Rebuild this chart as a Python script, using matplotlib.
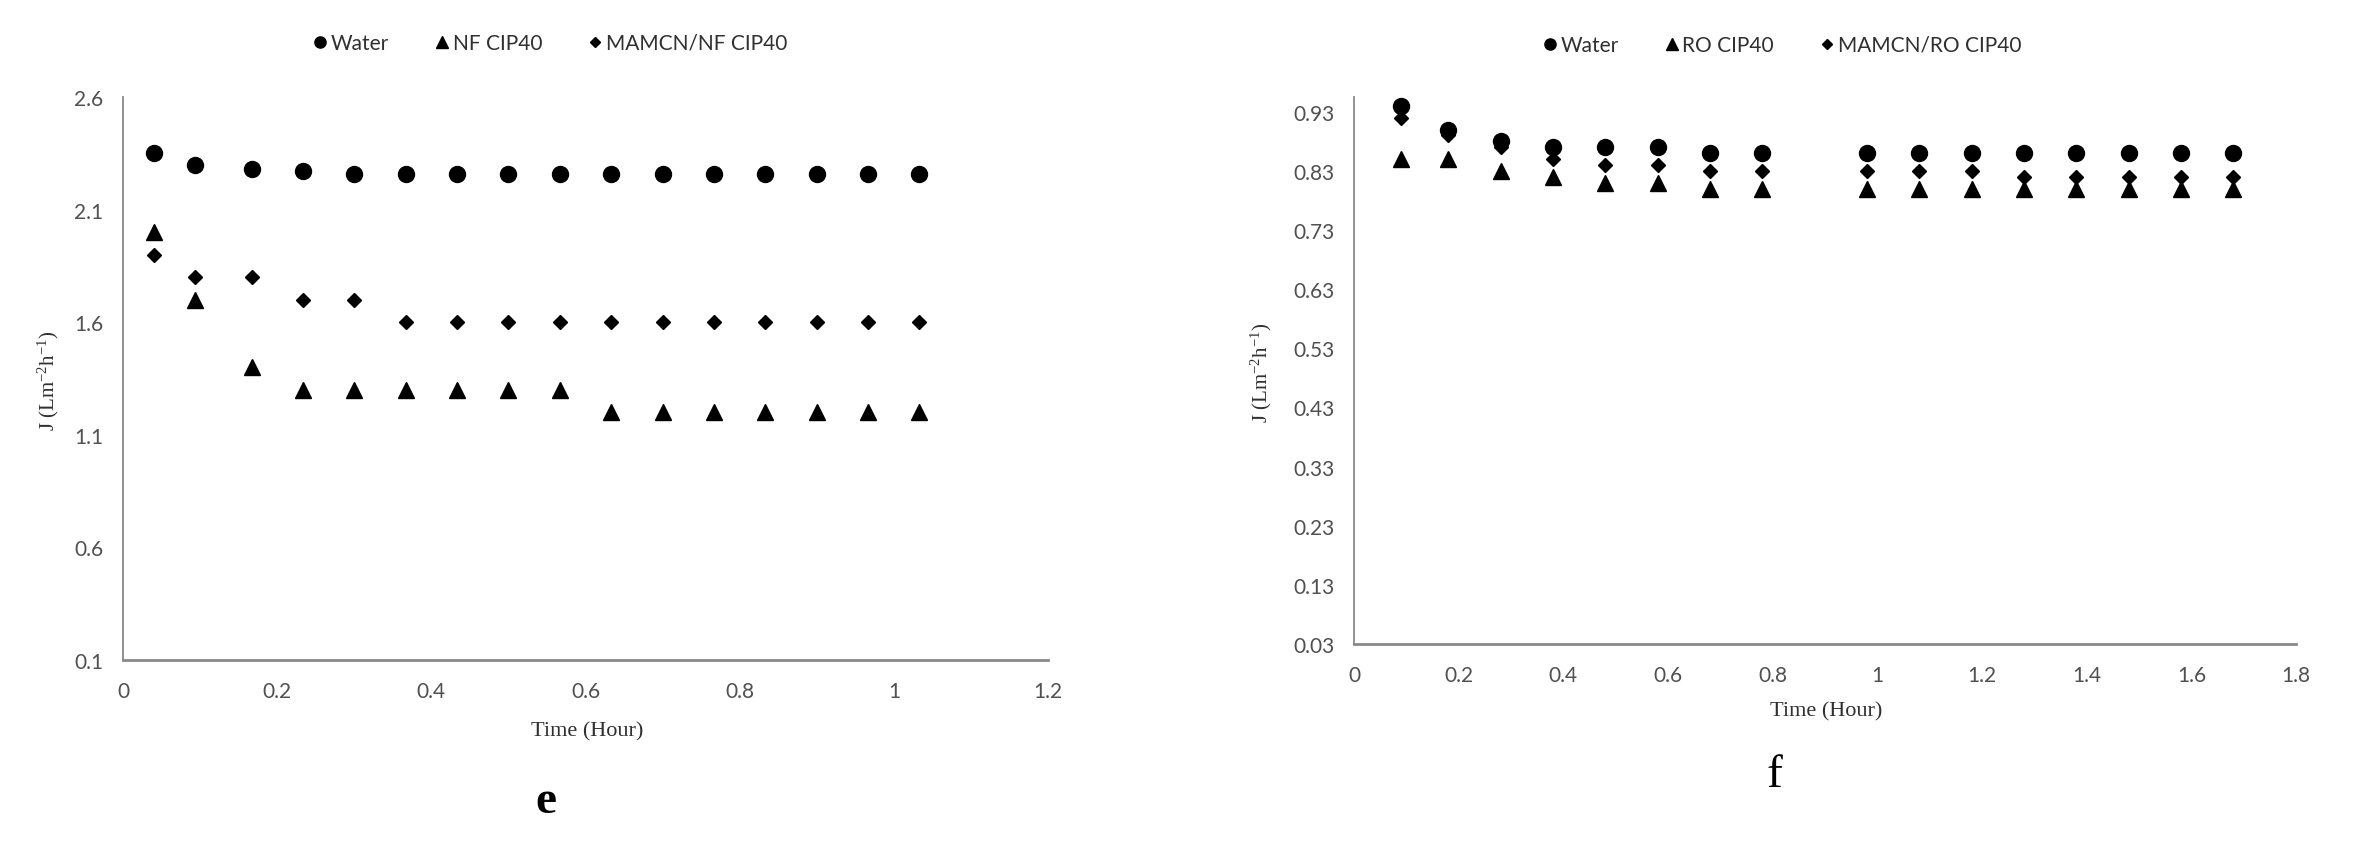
import matplotlib

matplotlib.use("Agg")
import matplotlib.pyplot as plt

# panel e: NF membrane
time_e = [0.04, 0.094, 0.167, 0.233, 0.3, 0.367, 0.433, 0.5,
          0.567, 0.633, 0.7, 0.767, 0.833, 0.9, 0.967, 1.033]
water_e = [2.35, 2.30, 2.28, 2.27, 2.26, 2.26, 2.26, 2.26,
           2.26, 2.26, 2.26, 2.26, 2.26, 2.26, 2.26, 2.26]
nf_cip = [2.0, 1.7, 1.4, 1.3, 1.3, 1.3, 1.3, 1.3,
          1.3, 1.2, 1.2, 1.2, 1.2, 1.2, 1.2, 1.2]
mamcn_nf = [1.9, 1.8, 1.8, 1.7, 1.7, 1.6, 1.6, 1.6,
            1.6, 1.6, 1.6, 1.6, 1.6, 1.6, 1.6, 1.6]

# panel f: RO membrane
time_f = [0.09, 0.18, 0.28, 0.38, 0.48, 0.58, 0.68, 0.78,
          0.98, 1.08, 1.18, 1.28, 1.38, 1.48, 1.58, 1.68]
water_f = [0.94, 0.90, 0.88, 0.87, 0.87, 0.87, 0.86, 0.86,
           0.86, 0.86, 0.86, 0.86, 0.86, 0.86, 0.86, 0.86]
ro_cip = [0.85, 0.85, 0.83, 0.82, 0.81, 0.81, 0.80, 0.80,
          0.80, 0.80, 0.80, 0.80, 0.80, 0.80, 0.80, 0.80]
mamcn_ro = [0.92, 0.89, 0.87, 0.85, 0.84, 0.84, 0.83, 0.83,
            0.83, 0.83, 0.83, 0.82, 0.82, 0.82, 0.82, 0.82]

yticks_e = [0.1, 0.6, 1.1, 1.6, 2.1, 2.6]
yticks_f = [0.03, 0.13, 0.23, 0.33, 0.43, 0.53, 0.63, 0.73, 0.83, 0.93]
xticks_e = [0, 0.2, 0.4, 0.6, 0.8, 1, 1.2]
xticks_f = [0, 0.2, 0.4, 0.6, 0.8, 1, 1.2, 1.4, 1.6, 1.8]

TICK_FONT = "Lato"
SERIF = "Liberation Serif"
SPINE = "#898989"
TICK_COLOR = "#505050"
YLABEL = r"J (Lm$^{\mathregular{-2}}$h$^{\mathregular{-1}}$)"

plt.rcParams["mathtext.default"] = "regular"

W, H = 2354, 845
fig = plt.figure(figsize=(W / 100, H / 100), dpi=100)


def px_axes(x0, x1, y0, y1):
    return fig.add_axes([x0 / W, 1 - y1 / H, (x1 - x0) / W, (y1 - y0) / H])


def style(ax, xticks, yticks, xlim, ylim, ylabels):
    ax.set_xlim(*xlim)
    ax.set_ylim(*ylim)
    ax.set_xticks(xticks, [f"{v:g}" for v in xticks])
    ax.set_yticks(yticks, ylabels)
    for side in ("top", "right"):
        ax.spines[side].set_visible(False)
    ax.spines["left"].set_color(SPINE)
    ax.spines["left"].set_linewidth(1.3)
    ax.spines["bottom"].set_color(SPINE)
    ax.spines["bottom"].set_linewidth(2.0)
    ax.tick_params(length=0, labelsize=15, colors=TICK_COLOR)
    ax.tick_params(axis="x", pad=15)
    ax.tick_params(axis="y", pad=14)
    for lab in ax.get_xticklabels() + ax.get_yticklabels():
        lab.set_fontfamily(TICK_FONT)


def draw(ax, t, series, labels):
    styles = [("o", 11.5), ("^", 11.5), ("D", 7.2)]
    for vals, lab, (mk, ms) in zip(series, labels, styles):
        ax.plot(t, vals, linestyle="none", marker=mk, markersize=ms,
                color="black", label=lab, clip_on=False)


# panel e
ax = px_axes(123, 1048, 98, 661)
draw(ax, time_e, [water_e, nf_cip, mamcn_nf], ["Water", "NF CIP40", "MAMCN/NF CIP40"])
style(ax, xticks_e, yticks_e, (0, 1.2), (0.1, 2.6), [f"{v:g}" for v in yticks_e])
leg = ax.legend(loc="center", bbox_to_anchor=(550 / W, 1 - 44 / H),
                bbox_transform=fig.transFigure, ncol=3, frameon=False,
                markerscale=0.7, handlelength=0.7, handletextpad=0.15,
                columnspacing=2.2, prop={"family": TICK_FONT, "size": 15})
for txt in leg.get_texts():
    txt.set_color("#303030")
fig.text(587 / W, 1 - 732 / H, "Time (Hour)", ha="center", va="center",
         family=SERIF, fontsize=16, color="#303030")
fig.text(48 / W, 1 - 381 / H, YLABEL, ha="center", va="center", rotation=90,
         family=SERIF, fontsize=15, color="#303030")
fig.text(546 / W, 1 - 802 / H, "e", ha="center", va="center",
         family=SERIF, fontsize=34, fontweight="bold")

# panel f
ax = px_axes(1354, 2296, 98, 645)
draw(ax, time_f, [water_f, ro_cip, mamcn_ro], ["Water", "RO CIP40", "MAMCN/RO CIP40"])
style(ax, xticks_f, yticks_f, (0, 1.8), (0.03, 0.955), [f"{v:.2f}" for v in yticks_f])
leg = ax.legend(loc="center", bbox_to_anchor=(1782 / W, 1 - 46 / H),
                bbox_transform=fig.transFigure, ncol=3, frameon=False,
                markerscale=0.7, handlelength=0.7, handletextpad=0.15,
                columnspacing=2.2, prop={"family": TICK_FONT, "size": 15})
for txt in leg.get_texts():
    txt.set_color("#303030")
fig.text(1826 / W, 1 - 712 / H, "Time (Hour)", ha="center", va="center",
         family=SERIF, fontsize=16, color="#303030")
fig.text(1261 / W, 1 - 373 / H, YLABEL, ha="center", va="center", rotation=90,
         family=SERIF, fontsize=15, color="#303030")
fig.text(1774 / W, 1 - 776 / H, "f", ha="center", va="center",
         family=SERIF, fontsize=34)

fig.savefig("out.png", dpi=100)
